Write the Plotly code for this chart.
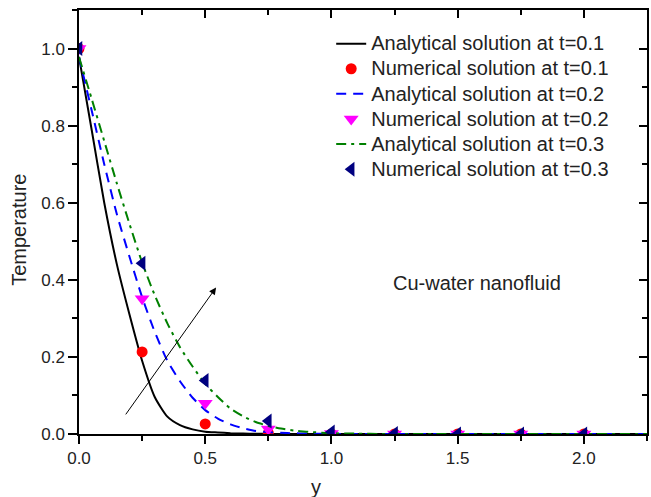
import plotly.graph_objects as go

# ---------------- data ----------------
y_curve = [0.0, 0.05, 0.10, 0.15, 0.20, 0.25, 0.30, 0.35, 0.40, 0.45, 0.50,
           0.55, 0.60, 0.65, 0.70, 0.75, 0.80, 0.85, 0.90, 1.00, 1.10, 1.20,
           1.50, 2.00, 2.25]
temp_an_01 = [0.978, 0.79, 0.60, 0.44, 0.31, 0.19, 0.096, 0.045, 0.023, 0.012, 0.006,
              0.004, 0.002, 0.001, 0.0005, 0.0003, 0.0, 0.0, 0.0, 0.0, 0.0, 0.0,
              0.0, 0.0, 0.0]
temp_an_02 = [0.978, 0.84, 0.70, 0.57, 0.46, 0.355, 0.265, 0.19, 0.137, 0.094, 0.062,
              0.040, 0.025, 0.015, 0.008, 0.005, 0.003, 0.002, 0.001, 0.0005, 0.0, 0.0,
              0.0, 0.0, 0.0]
temp_an_03 = [0.978, 0.87, 0.76, 0.65, 0.545, 0.445, 0.36, 0.287, 0.225, 0.175, 0.13,
              0.096, 0.066, 0.046, 0.031, 0.021, 0.014, 0.009, 0.006, 0.002, 0.001, 0.0,
              0.0, 0.0, 0.0]

y_num = [0.0, 0.25, 0.50, 0.75, 1.00, 1.25, 1.50, 1.75, 2.00]
temp_num_01 = [1.0, 0.213, 0.026, 0.002, 0.0, 0.0, 0.0, 0.0, 0.0]
temp_num_02 = [1.0, 0.351, 0.080, 0.013, 0.001, 0.0, 0.0, 0.0, 0.0]
temp_num_03 = [1.0, 0.443, 0.139, 0.034, 0.005, 0.001, 0.0, 0.0, 0.0]

names = ["Analytical solution at t=0.1", "Numerical solution at t=0.1",
         "Analytical solution at t=0.2", "Numerical solution at t=0.2",
         "Analytical solution at t=0.3", "Numerical solution at t=0.3"]

x_range = [0, 2.25]
y_range = [0, 1.1]
x_major, x_minor = 0.5, 0.25
y_major, y_minor = 0.2, 0.1

arrow_tail = (0.181, 0.047)
arrow_head = (0.543, 0.380)

FONT = "Liberation Sans, Arial, sans-serif"


def legend_label(s):
    # legend row spacing follows the legend font (17px); the text itself is drawn at 20px
    return f'<span style="font-size:20px">{s}</span>'


fig = go.Figure()

fig.add_trace(go.Scatter(x=y_curve, y=temp_an_01, mode="lines", name=legend_label(names[0]),
                         line=dict(color="black", width=2, shape="spline", smoothing=0.6)))
fig.add_trace(go.Scatter(x=y_num, y=temp_num_01, mode="markers", name=legend_label(names[1]),
                         marker=dict(symbol="circle", size=11, color="#ff0000")))
fig.add_trace(go.Scatter(x=y_curve, y=temp_an_02, mode="lines", name=legend_label(names[2]),
                         line=dict(color="#0000ff", width=2, dash="10px,7px",
                                   shape="spline", smoothing=0.6)))
fig.add_trace(go.Scatter(x=y_num, y=temp_num_02, mode="markers", name=legend_label(names[3]),
                         marker=dict(symbol="triangle-down", size=13, color="#ff00ff")))
fig.add_trace(go.Scatter(x=y_curve, y=temp_an_03, mode="lines", name=legend_label(names[4]),
                         line=dict(color="#008000", width=2, dash="10px,5px,3px,5px",
                                   shape="spline", smoothing=0.6)))
fig.add_trace(go.Scatter(x=y_num, y=temp_num_03, mode="markers", name=legend_label(names[5]),
                         marker=dict(symbol="triangle-left", size=13, color="#000080")))

# invisible anchor traces so the mirrored (inward-tick) top and right axes get drawn
fig.add_trace(go.Scatter(x=[x_range[0]], y=[y_range[0]], xaxis="x2", yaxis="y",
                         mode="markers", marker=dict(opacity=0, size=1),
                         showlegend=False, hoverinfo="skip"))
fig.add_trace(go.Scatter(x=[x_range[0]], y=[y_range[0]], xaxis="x", yaxis="y2",
                         mode="markers", marker=dict(opacity=0, size=1),
                         showlegend=False, hoverinfo="skip"))

tick_style = dict(tickcolor="black", tickwidth=1.5)
axis_common = dict(showgrid=False, zeroline=False, showline=True, linecolor="black",
                   linewidth=1.5, tickformat=".1f", tickmode="linear", tick0=0,
                   tickfont=dict(family=FONT, size=17, color="#222"), **tick_style)

fig.update_layout(
    width=651, height=497,
    margin=dict(l=79, r=2, t=10, b=63),
    paper_bgcolor="white", plot_bgcolor="white",
    font=dict(family=FONT, color="#222"),
    showlegend=True,
    legend=dict(x=0.444, y=0.962, xanchor="left", yanchor="top",
                bgcolor="rgba(0,0,0,0)", font=dict(family=FONT, size=17, color="#222"),
                tracegroupgap=0),
    xaxis=dict(range=x_range, dtick=x_major, ticks="outside", ticklen=8, mirror=True,
               minor=dict(dtick=x_minor, tick0=0, ticks="outside", ticklen=5, **tick_style),
               **axis_common),
    yaxis=dict(range=y_range, dtick=y_major, ticks="outside", ticklen=9, mirror=True,
               minor=dict(dtick=y_minor, tick0=0, ticks="outside", ticklen=5, **tick_style),
               **axis_common),
    xaxis2=dict(range=x_range, overlaying="x", side="top", anchor="y",
                tickmode="linear", tick0=0, dtick=x_major,
                showticklabels=False, ticks="inside", ticklen=8,
                minor=dict(dtick=x_minor, tick0=0, ticks="inside", ticklen=5, **tick_style),
                showgrid=False, zeroline=False, showline=True, linecolor="black",
                linewidth=1.5, **tick_style),
    yaxis2=dict(range=y_range, overlaying="y", side="right", anchor="x",
                tickmode="linear", tick0=0, dtick=y_major,
                showticklabels=False, ticks="inside", ticklen=8,
                minor=dict(dtick=y_minor, tick0=0, ticks="inside", ticklen=5, **tick_style),
                showgrid=False, zeroline=False, showline=True, linecolor="black",
                linewidth=1.5, **tick_style),
)

fig.add_annotation(text="Temperature", xref="paper", yref="paper", x=-0.106, y=0.481,
                   textangle=-90, showarrow=False, xanchor="center", yanchor="middle",
                   font=dict(family=FONT, size=20, color="#222"))
fig.add_annotation(text="y", xref="paper", yref="paper", x=0.4175, y=-0.125,
                   showarrow=False, xanchor="center", yanchor="middle",
                   font=dict(family=FONT, size=20, color="#222"))
fig.add_annotation(text="Cu-water nanofluid", xref="x", yref="y", x=1.576, y=0.392,
                   showarrow=False, xanchor="center", yanchor="middle",
                   font=dict(family=FONT, size=20, color="#222"))
fig.add_annotation(text="", xref="x", yref="y", x=arrow_head[0], y=arrow_head[1],
                   axref="x", ayref="y", ax=arrow_tail[0], ay=arrow_tail[1],
                   showarrow=True, arrowhead=2, arrowsize=1.4, arrowwidth=1,
                   arrowcolor="black")

fig.write_html("out.html")
